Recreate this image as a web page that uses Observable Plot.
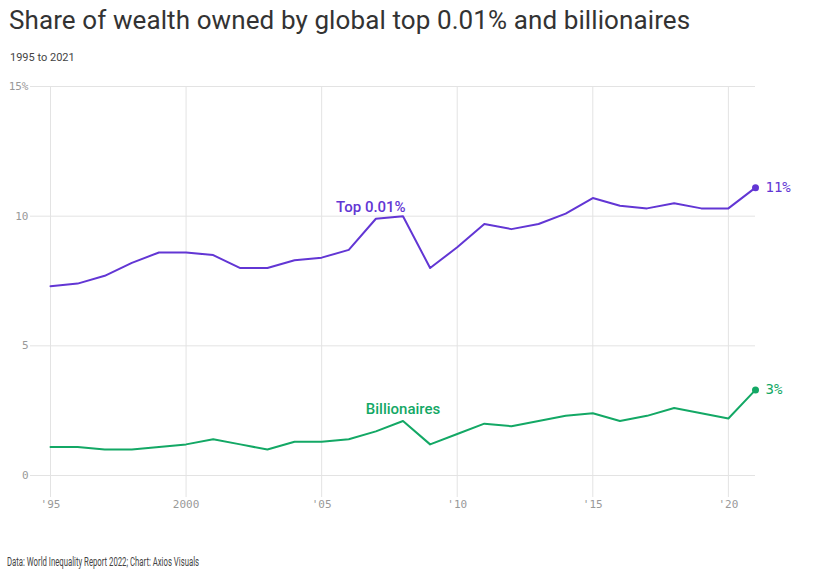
<!DOCTYPE html>
<html>
<head>
<meta charset="utf-8">
<script src="https://cdn.jsdelivr.net/npm/d3@7"></script>
<script src="https://cdn.jsdelivr.net/npm/@observablehq/plot@0.6"></script>
<style>
  body { margin: 0; background: #fff; width: 815px; height: 584px; overflow: hidden; }
  #title { position: absolute; left: 9px; top: 5px; font-family: Roboto, "Noto Sans", sans-serif; font-size: 26px; color: #333; letter-spacing: 0.1px; white-space: nowrap; }
  #subtitle { position: absolute; left: 10px; top: 51px; font-family: Roboto, sans-serif; font-size: 11px; color: #444; }
  #chart { position: absolute; left: 0; top: 70px; }
  #caption { position: absolute; left: 7px; top: 554px; font-family: Roboto, sans-serif; font-size: 12.5px; color: #444; white-space: nowrap; transform: scaleX(0.62); transform-origin: left center; }
</style>
</head>
<body>
<div id="title">Share of wealth owned by global top 0.01% and billionaires</div>
<div id="subtitle">1995 to 2021</div>
<div id="chart"></div>
<div id="caption">Data: World Inequality Report 2022; Chart: Axios Visuals</div>
<script>
const years = [1995,1996,1997,1998,1999,2000,2001,2002,2003,2004,2005,2006,2007,2008,2009,2010,2011,2012,2013,2014,2015,2016,2017,2018,2019,2020,2021];
const top001 = [7.3,7.4,7.7,8.2,8.6,8.6,8.5,8.0,8.0,8.3,8.4,8.7,9.9,10.0,8.0,8.8,9.7,9.5,9.7,10.1,10.7,10.4,10.3,10.5,10.3,10.3,11.1];
const billionaires = [1.1,1.1,1.0,1.0,1.1,1.2,1.4,1.2,1.0,1.3,1.3,1.4,1.7,2.1,1.2,1.6,2.0,1.9,2.1,2.3,2.4,2.1,2.3,2.6,2.4,2.2,3.3];
const seriesNames = ["Top 0.01%", "Billionaires"];
const seriesColors = ["#6236d4", "#13a865"];
const endLabels = ["11%", "3%"];
const labelYears = [2007, 2008];
const xTicks = [1995, 2000, 2005, 2010, 2015, 2020];
const xTickLabels = ["'95", "2000", "'05", "'10", "'15", "'20"];
const yTicks = [0, 5, 10, 15];
const yTickLabels = ["0", "5", "10", "15%"];

const data = [];
years.forEach((y, i) => {
  data.push({series: seriesNames[0], year: y, value: top001[i]});
  data.push({series: seriesNames[1], year: y, value: billionaires[i]});
});
const last = data.filter(d => d.year === years[years.length - 1])
  .map(d => ({...d, label: endLabels[seriesNames.indexOf(d.series)]}));
const topLabel = data.filter(d => d.series === seriesNames[0] && d.year === labelYears[0]);
const billLabel = data.filter(d => d.series === seriesNames[1] && d.year === labelYears[1]);

const color = {domain: seriesNames, range: seriesColors};
const mono = "'DejaVu Sans Mono', 'Liberation Mono', monospace";
const sans = "Roboto, 'Noto Sans', sans-serif";

const chart = Plot.plot({
  width: 815,
  height: 470,
  marginTop: 16,
  marginBottom: 65,
  marginLeft: 50,
  marginRight: 60,
  style: {fontFamily: mono, fontSize: "11px", color: "#999", background: "transparent"},
  x: {domain: [1995, 2021], label: null},
  y: {domain: [0, 15], label: null},
  color,
  marks: [
    Plot.gridY(yTicks, {stroke: "#e3e3e3", strokeOpacity: 1, insetLeft: -20}),
    Plot.gridX(xTicks, {stroke: "#e3e3e3", strokeOpacity: 1, insetBottom: -22}),
    Plot.axisX({ticks: xTicks, tickFormat: d => xTickLabels[xTicks.indexOf(d)], tickSize: 0, tickPadding: 25, fill: "#999", fontFamily: mono, fontSize: 11}),
    Plot.axisY({ticks: yTicks, tickFormat: d => yTickLabels[yTicks.indexOf(d)], tickSize: 0, tickPadding: 22, fill: "#999", fontFamily: mono, fontSize: 11}),
    Plot.line(data, {x: "year", y: "value", z: "series", stroke: "series", strokeWidth: 2}),
    Plot.dot(last, {x: "year", y: "value", fill: "series", r: 3.5}),
    Plot.text(last, {x: "year", y: "value", text: "label", fill: "series", textAnchor: "start", dx: 10, fontSize: 14, fontFamily: mono}),
    Plot.text(topLabel, {x: "year", y: "value", text: "series", fill: "series", dy: -12, dx: -5, fontSize: 15, fontWeight: 500, fontFamily: sans}),
    Plot.text(billLabel, {x: "year", y: "value", text: "series", fill: "series", dy: -12, fontSize: 15, fontWeight: 500, fontFamily: sans})
  ]
});
document.getElementById("chart").appendChild(chart);
</script>
</body>
</html>
